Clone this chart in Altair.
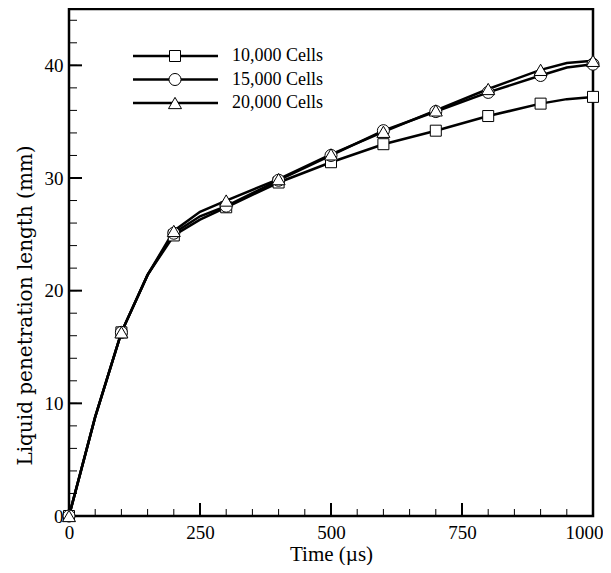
import altair as alt
import pandas as pd

series = ["10,000 Cells", "15,000 Cells", "20,000 Cells"]
shapes = ["square", "circle", "triangle-up"]
sizes = [121, 169, 169]

time_us = [0, 50, 100, 150, 200, 250, 300, 400, 500, 600, 700, 800, 900, 950, 1000]
cells_10k = [0, 8.8, 16.3, 21.4, 24.9, 26.3, 27.4, 29.6, 31.4, 33.0, 34.2, 35.5, 36.6, 37.0, 37.2]
cells_15k = [0, 8.8, 16.3, 21.4, 25.1, 26.6, 27.5, 29.8, 32.0, 34.2, 35.9, 37.6, 39.1, 39.8, 40.1]
cells_20k = [0, 8.8, 16.3, 21.4, 25.3, 27.0, 28.0, 29.9, 32.1, 34.1, 36.0, 37.9, 39.6, 40.2, 40.4]
marker_times = [0, 100, 200, 300, 400, 500, 600, 700, 800, 900, 1000]

x_labels = [0, 250, 500, 750, 1000]
x_minor = [0, 50, 100, 150, 200, 250, 300, 350, 400, 450, 500, 550, 600, 650,
           700, 750, 800, 850, 900, 950, 1000]
y_labels = [0, 10, 20, 30, 40]
y_minor = [0, 2, 4, 6, 8, 10, 12, 14, 16, 18, 20, 22, 24, 26, 28, 30, 32, 34,
           36, 38, 40, 42, 44]

rows = []
for name, vals in zip(series, [cells_10k, cells_15k, cells_20k]):
    for t, v in zip(time_us, vals):
        rows.append({"series": name, "time": t, "value": v})
df = pd.DataFrame(rows)

W, H = 524, 507
FONT = "Liberation Serif"

xscale = alt.Scale(domain=[0, 1000], nice=False, zero=False)
yscale = alt.Scale(domain=[0, 45], nice=False, zero=False)
xaxis = alt.Axis(values=x_labels, format="d", title="Time (µs)", labelPadding=7,
                 titlePadding=1, labelFlush=False,
                 labelAlign=alt.ExprRef("datum.value == 1000 ? 'right' : 'center'"),
                 labelOffset=alt.ExprRef("datum.value == 1000 ? 10 : 0"))
yaxis = alt.Axis(values=y_labels, format="d", title="Liquid penetration length (mm)",
                 labelPadding=6, titlePadding=9, titleY=296,
                 titleFont="DejaVu Serif", titleFontSize=20)
X = lambda: alt.X("time:Q", scale=xscale, axis=xaxis)
Y = lambda: alt.Y("value:Q", scale=yscale, axis=yaxis)
shape_scale = alt.Scale(domain=series, range=shapes)
size_scale = alt.Scale(domain=series, range=sizes)

base = alt.Chart(df)

lines = base.mark_line(color="black", strokeWidth=2.5).encode(
    x=X(), y=Y(), detail="series:N")

points = base.transform_filter(
    alt.FieldOneOfPredicate(field="time", oneOf=marker_times)
).mark_point(filled=True, fill="white", stroke="black", strokeWidth=1, opacity=1).encode(
    x=X(), y=Y(),
    shape=alt.Shape("series:N", scale=shape_scale, legend=None),
    size=alt.Size("series:N", scale=size_scale, legend=None),
)

xmaj = alt.Chart(pd.DataFrame({"time": x_labels})).mark_rule(color="black", strokeWidth=2).encode(
    x=X(), y=alt.value(H), y2=alt.value(H - 13))
xmin = alt.Chart(pd.DataFrame({"time": x_minor})).mark_rule(color="black", strokeWidth=1).encode(
    x=X(), y=alt.value(H), y2=alt.value(H - 7))
ymaj = alt.Chart(pd.DataFrame({"value": y_labels})).mark_rule(color="black", strokeWidth=2).encode(
    y=Y(), x=alt.value(0), x2=alt.value(13))
ymin = alt.Chart(pd.DataFrame({"value": y_minor})).mark_rule(color="black", strokeWidth=1).encode(
    y=Y(), x=alt.value(0), x2=alt.value(8))

inner = alt.layer(lines, ymin, ymaj, xmin, xmaj, points)

leg = alt.Chart(pd.DataFrame({"series": series}))
leg_y = alt.Y("series:N", scale=alt.Scale(type="point", domain=series, range=[47, 94], padding=0),
              axis=None)
leg_line = leg.mark_rule(color="black", strokeWidth=2.5).encode(
    y=leg_y, x=alt.value(64), x2=alt.value(149))
leg_pt = leg.mark_point(filled=True, fill="white", stroke="black", strokeWidth=1, opacity=1).encode(
    y=leg_y, x=alt.value(106),
    shape=alt.Shape("series:N", scale=shape_scale, legend=None),
    size=alt.Size("series:N", scale=size_scale, legend=None))
leg_txt = leg.mark_text(align="left", baseline="middle", font=FONT, fontSize=18, color="black").encode(
    y=leg_y, x=alt.value(163), text="series:N")

chart = alt.layer(inner, leg_line, leg_pt, leg_txt).resolve_scale(y="independent").properties(
    width=W, height=H,
    autosize=alt.AutoSizeParams(type="none"),
    padding={"left": 61, "top": 1, "right": 10, "bottom": 49},
    background="white",
).configure_view(stroke="black", strokeWidth=2.5).configure_axis(
    grid=False, domain=False, ticks=False,
    labelFont=FONT, labelFontSize=19, labelColor="black",
    titleFont=FONT, titleFontSize=21, titleFontWeight="normal", titleColor="black",
)

chart.save("out.html", embed_options={"renderer": "svg", "actions": False})
